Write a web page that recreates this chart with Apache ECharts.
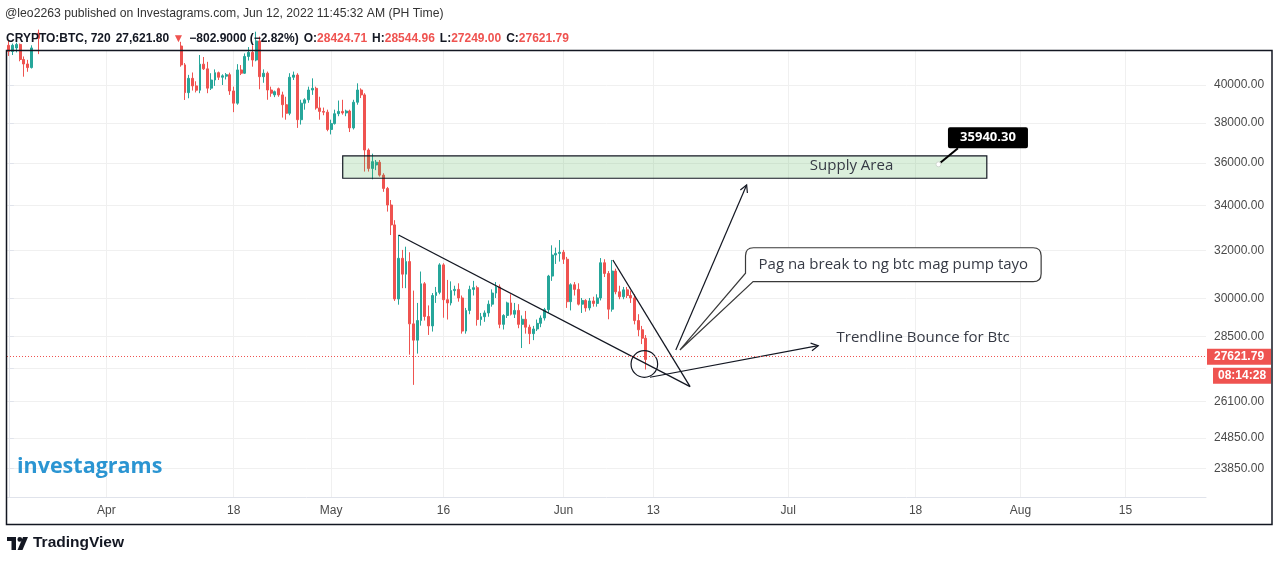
<!DOCTYPE html>
<html><head><meta charset="utf-8">
<script src="https://cdn.jsdelivr.net/npm/echarts@6/dist/echarts.min.js"></script>
<style>html,body{margin:0;padding:0;background:#fff}#c{width:1279px;height:562px}</style>
</head><body><div id="c"></div>
<script>
// ---------- data ----------
const slotCount = 320;                       // 12h slots on the time axis (Mar 19 -> Aug 25)
const firstSlotUTC = Date.UTC(2022, 2, 19, 8, 0); // first candle, 08:00 PH time
// candles: [open, high, low, close]  (720-minute bars)
const ohlc = [
[42200,42450,41600,41850],[41850,42300,41650,42200],[42050,42350,41800,42250],[42250,42300,41300,41400],
[41400,41570,40450,41150],[41150,41380,40720,40950],[40950,42200,40900,42050],[42050,43300,41950,42900],
[42900,43100,41700,42600],[42600,43050,42400,42900],[42900,43700,42700,43600],[43600,44200,43400,43960],
[43960,45100,43900,44600],[44600,44900,44100,44330],[44330,44700,44200,44500],[44500,44800,44300,44450],
[44450,45100,44400,45000],[45000,46900,44900,46820],[46820,48190,46700,47500],[47500,47700,46800,47130],
[47130,48100,47000,47800],[47800,47900,47200,47430],[47430,47500,46600,47100],[47100,47700,46800,47060],
[47060,47600,46900,47300],[47300,47400,45300,45530],[45530,45800,44200,45000],[45000,46700,44900,46400],
[46400,47200,46200,47000],[47000,47100,46300,46450],[46450,46700,45900,46300],[46300,47400,46200,46620],
[46620,46800,45100,45500],[45500,46800,45400,46600],[46600,47200,46400,47000],[47000,47100,45400,45500],
[45500,45600,43800,44000],[44000,44200,43100,43170],[43170,43700,42800,43600],[43600,43900,43200,43440],
[43440,43950,43300,43900],[43900,43950,42150,42250],[42250,42500,42100,42400],[42400,42800,42300,42750],
[42750,43400,42600,43100],[43100,43200,42100,42160],[42160,42400,41000,41100],[41100,41200,39200,39590],
[39590,40550,39290,40360],[40360,40680,39700,39950],[39950,40200,39600,39720],[39720,41650,39560,41140],
[41140,41540,40820,40880],[40880,41270,39560,39830],[39830,40640,39730,40270],[40270,40850,39950,40670],
[40670,40730,40270,40420],[40420,40580,40000,40500],[40480,40650,40300,40560],[40560,40670,39470,39680],
[39680,39910,38560,39030],[39030,41140,38950,40820],[40820,41090,40540,40640],[40640,41740,40600,41570],
[41570,42100,41340,41800],[41800,42200,41000,41370],[41370,42980,41300,42450],[42450,42700,39770,40450],
[40450,40850,40120,40640],[40640,40730,39210,39730],[39730,39910,39370,39560],[39470,39700,39350,39640],
[39800,39860,39370,39470],[39470,39640,38280,38950],[38950,39370,38170,38500],[38500,40640,38400,40420],
[40420,40730,40270,40540],[40540,40640,37750,38170],[38170,39210,37920,39030],[39030,39290,38690,39210],
[39210,39910,39050,39730],[39730,40360,39470,39820],[39820,39910,38690,38780],[38780,39370,38170,38600],
[38600,38800,38400,38560],[38560,38690,37580,37670],[37670,38170,37420,37970],[37970,38690,37920,38480],
[38480,39170,38350,38600],[38600,39210,38430,38520],[38520,38690,38350,38620],[38620,38690,37540,37750],
[37750,39210,37670,39080],[39080,40090,38950,39730],[39730,39820,39300,39470],[39470,39560,35590,36640],
[36640,36720,35590,35740],[35740,36460,35220,36070],[35910,36150,35660,36040],[36040,36150,35350,35420],
[35420,35510,34630,34790],[34790,34860,33720,34020],[34020,34250,32670,33120],[33120,33330,29890,29970],
[29970,32670,29740,31660],[31660,32020,30410,30990],[30990,32160,30410,31520],[31520,31920,27800,28980],
[28980,30310,26690,28350],[28350,29810,27840,29110],[29110,31100,28910,30590],[30590,30660,29110,29270],
[29270,29710,28550,28900],[28900,30210,28680,30110],[30110,30460,29810,30240],[30240,31450,30160,31380],
[31380,31450,29220,29940],[29940,30750,29150,29810],[29810,30690,29710,30310],[30310,30510,30110,30360],
[30360,30610,29860,30010],[30010,30110,28600,28700],[28700,29610,28600,29510],[29510,30510,29360,30360],
[30360,30710,30110,30430],[30430,30510,28910,29150],[29150,29410,28910,29260],[29260,29510,29060,29410],
[29410,29910,29260,29760],[29760,30360,29660,30210],[30210,30660,30010,30460],[30460,30560,28810,28960],
[28960,29360,28760,29310],[29310,29860,29210,29810],[29810,30160,29310,29360],[29360,29810,29210,29510],
[29510,29760,28810,28960],[28960,29310,28050,29160],[29160,29490,28600,28850],[28850,28950,28200,28600],
[28600,28900,28350,28780],[28780,29150,28700,29000],[29000,29310,28850,29210],[29210,29610,29110,29540],
[29540,30960,29410,30910],[30910,32220,30710,31800],[31800,32120,31420,31870],[31870,32450,31520,31920],
[31920,32020,31420,31620],[31620,31720,29610,29860],[29860,30610,29510,30550],[30550,30660,30110,30360],
[30360,30610,29710,29760],[29760,30010,29410,29910],[29910,29960,29460,29610],[29610,30010,29510,29890],
[29890,30060,29660,29790],[29790,30160,29660,30010],[30010,31670,29910,31470],[31470,31620,30870,31020],
[31020,31120,29160,29560],[29560,31590,29460,31120],[31120,31220,30160,30260],[30260,30510,29960,30060],
[30060,30460,29960,30340],[30340,30460,30010,30110],[30110,30310,29810,30010],[30010,30160,28960,29110],
[29110,29360,28500,28750],[28750,28900,28200,28424.71],[28424.71,28544.96,27249.00,27621.79]
];
const priceChange = '\u2212802.9000 (\u22122.82%)';
const lastPriceText = '27,621.80';
const countdown = '08:14:28';
// price axis (log scale) range and ticks
const yMinPrice = 22943, yMaxPrice = 41877;
const yTickValues = [40000, 38000, 36000, 34000, 32000, 30000, 28500, 27300, 26100, 24850, 23850];
const yTickLabels = ['40000.00','38000.00','36000.00','34000.00','32000.00','30000.00','28500.00','','26100.00','24850.00','23850.00'];
const xTickLabels = {
  '2022-04-01 08:00':'Apr','2022-04-18 08:00':'18','2022-05-01 08:00':'May','2022-05-16 08:00':'16',
  '2022-06-01 08:00':'Jun','2022-06-13 08:00':'13','2022-07-01 08:00':'Jul','2022-07-18 08:00':'18',
  '2022-08-01 08:00':'Aug','2022-08-15 08:00':'15'
};
// drawings: points are [slot index, price]
const trendLines = [ [[104, 32672], [181.8, 26626]], [[161.2, 31589], [181.8, 26626]] ];
const arrows = [ [[171.1, 26966], [216.0, 28140]], [[178.0, 27978], [196.9, 34952]] ];
const circles = [ [169.6, 27453] ];
const supplyArea = { from: [89.1, 36347], to: [261.0, 35270], textAt: [224.9, 35874], text: 'Supply Area' };
const notes = [ { at: [220.9, 28425], text: 'Trendline Bounce for Btc' } ];
const callout = { from: [196.6, 32115], to: [275.5, 30678], tip: [179.1, 27978], text: 'Pag na break to ng btc mag pump tayo' };
const priceNote = { point: [248.1, 35940.30], anchor: [253.3, 36726], text: '35940.30' };

// ---------- build ----------
const FONT = '"Liberation Sans", "DejaVu Sans", Arial, sans-serif';
const DFONT = '"Open Sans", "Noto Sans", sans-serif';
const UP = '#26a69a', DOWN = '#ef5350', INK = '#131722';
const L = Math.log;
const pad = n => String(n).padStart(2, '0');
const categories = [];
for (let i = 0; i < slotCount; i++) {
  const d = new Date(firstSlotUTC + i * 12 * 3600 * 1000);
  categories.push(`${d.getUTCFullYear()}-${pad(d.getUTCMonth()+1)}-${pad(d.getUTCDate())} ${pad(d.getUTCHours())}:00`);
}
const candleData = ohlc.map(([o,h,l,c]) => [L(o), L(c), L(l), L(h)]);
const last = ohlc[ohlc.length - 1];
const lnTicks = yTickValues.map(L);
const yFmt = v => {
  let b = 0;
  for (let i = 1; i < lnTicks.length; i++) if (Math.abs(lnTicks[i]-v) < Math.abs(lnTicks[b]-v)) b = i;
  return yTickLabels[b];
};
const isTick = (idx, val) => Object.prototype.hasOwnProperty.call(xTickLabels, val);
const seg = s => [s[0][0], L(s[0][1]), s[1][0], L(s[1][1])];

function head(a, b, len, ang) {
  const th = Math.atan2(b[1]-a[1], b[0]-a[0]);
  return [[b[0]-len*Math.cos(th-ang), b[1]-len*Math.sin(th-ang)], b, [b[0]-len*Math.cos(th+ang), b[1]-len*Math.sin(th+ang)]];
}
const txt = (x, y, text, font, fill, align) => ({type:'text', x, y, style:{text, font, fill, align, textAlign: align, verticalAlign:'middle', textVerticalAlign:'middle'}});

const chart = echarts.init(document.getElementById('c'), null, {renderer:'canvas'});
chart.setOption({
  animation: false,
  backgroundColor: '#ffffff',
  title: [
    { left: 5, top: 8, padding: 0, text: '@leo2263 published on Investagrams.com, Jun 12, 2022 11:45:32 AM (PH Time)',
      textStyle: { fontSize: 12.2, fontWeight: 'normal', color: '#333', fontFamily: FONT } },
    { left: 6, top: 30, padding: 0,
      text: `{b|CRYPTO:BTC, 720} {n|${lastPriceText}}{r| \u25BC} {n|${priceChange}} {b|O:}{r|${last[0].toFixed(2)}} {b|H:}{r|${last[1].toFixed(2)}} {b|L:}{r|${last[2].toFixed(2)}} {b|C:}{r|${last[3].toFixed(2)}}`,
      textStyle: { rich: {
        b: { fontSize: 12, fontWeight: 'bold', color: INK, fontFamily: FONT },
        n: { fontSize: 12, color: INK, fontFamily: FONT },
        r: { fontSize: 12, color: DOWN, fontFamily: FONT }
      } } }
  ],
  graphic: [
    { type: 'rect', shape: { x: 6.5, y: 50.5, width: 1265.5, height: 474 }, style: { fill: 'none', stroke: INK, lineWidth: 1.5 }, silent: true, z: 100 },
    { type: 'text', left: 17, top: 456, style: { text: 'investagrams', font: 'bold 21.5px "Open Sans", sans-serif', fill: '#2b95d2' }, z: 50 },
    { type: 'group', left: 7, top: 537, children: [
      { type: 'rect', shape: { x: 0, y: 0, width: 9, height: 4 }, style: { fill: INK } },
      { type: 'rect', shape: { x: 4.5, y: 0, width: 4.5, height: 13 }, style: { fill: INK } },
      { type: 'circle', shape: { cx: 12.8, cy: 2.4, r: 2.4 }, style: { fill: INK } },
      { type: 'polygon', shape: { points: [[10.5,13],[15.5,13],[21,0],[16,0]] }, style: { fill: INK } }
    ] },
    { type: 'text', left: 33, top: 535, style: { text: 'TradingView', font: 'bold 15.5px ' + FONT, fill: INK } }
  ],
  grid: { left: 7, right: 73, top: 51, bottom: 65, containLabel: false },
  xAxis: [
    { type: 'category', data: categories, boundaryGap: true,
      axisLine: { lineStyle: { color: '#e0e3eb' } }, axisTick: { show: false },
      axisLabel: { interval: isTick, formatter: v => xTickLabels[v] || '', color: '#4a4a4a', fontSize: 12, fontFamily: FONT, margin: 8 },
      splitLine: { show: true, interval: isTick, alignWithLabel: true, lineStyle: { color: '#f0f0f0' } } },
    { type: 'value', min: -0.5, max: slotCount - 0.5, show: false }
  ],
  yAxis: [{
    type: 'value', position: 'right', min: L(yMinPrice), max: L(yMaxPrice), scale: true,
    axisLine: { show: true, lineStyle: { color: '#e0e3eb' } },
    axisTick: { show: true, length: 5, customValues: lnTicks, lineStyle: { color: '#e0e3eb' } },
    axisLabel: { customValues: lnTicks, formatter: yFmt, color: '#4a4a4a', fontSize: 12, fontFamily: FONT, margin: 8 },
    splitLine: { show: true, lineStyle: { color: '#f0f0f0' } }
  }],
  series: [
    { type: 'candlestick', name: 'BTC', xAxisIndex: 0, yAxisIndex: 0, data: candleData, barWidth: 2.4, clip: true,
      itemStyle: { color: UP, color0: DOWN, borderColor: UP, borderColor0: DOWN, borderWidth: 1 },
      markLine: { silent: true, symbol: ['none','none'], animation: false,
        lineStyle: { color: DOWN, type: [1, 2], width: 1 },
        label: { show: true, position: 'end', distance: 1,
          formatter: () => `{s| }\n{p|${last[3].toFixed(2)}}\n{g| }\n{t|${countdown}}`,
          rich: {
            s: { height: 19, lineHeight: 19, fontSize: 1 },
            p: { backgroundColor: DOWN, color: '#fff', fontWeight: 'bold', fontSize: 12, fontFamily: FONT, height: 16, lineHeight: 16, padding: [0, 7] },
            g: { height: 3, lineHeight: 3, fontSize: 1 },
            t: { backgroundColor: DOWN, color: '#fff', fontWeight: 'bold', fontSize: 12, fontFamily: FONT, height: 16, lineHeight: 16, padding: [0, 5], align: 'right' }
          } },
        data: [{ yAxis: L(last[3]) }] } },
    { type: 'custom', name: 'supply', xAxisIndex: 1, yAxisIndex: 0, z: 3,
      data: [[supplyArea.from[0], L(supplyArea.from[1]), supplyArea.to[0], L(supplyArea.to[1]), supplyArea.textAt[0], L(supplyArea.textAt[1])]],
      encode: { x: [0, 2], y: [1, 3] },
      renderItem: (p, api) => {
        const a = api.coord([api.value(0), api.value(1)]), b = api.coord([api.value(2), api.value(3)]);
        const t = api.coord([api.value(4), api.value(5)]);
        return { type: 'group', children: [
          { type: 'rect', shape: { x: a[0], y: a[1], width: b[0]-a[0], height: b[1]-a[1] }, style: { fill: 'rgba(76,175,80,0.2)', stroke: INK, lineWidth: 1.2 } },
          txt(t[0], t[1], supplyArea.text, '15px ' + DFONT, '#363a45', 'center')
        ] };
      } },
    { type: 'custom', name: 'trendlines', xAxisIndex: 1, yAxisIndex: 0, z: 4,
      data: trendLines.map(seg), encode: { x: [0, 2], y: [1, 3] },
      renderItem: (p, api) => {
        const a = api.coord([api.value(0), api.value(1)]), b = api.coord([api.value(2), api.value(3)]);
        return { type: 'line', shape: { x1: a[0], y1: a[1], x2: b[0], y2: b[1] }, style: { stroke: INK, lineWidth: 1.3 } };
      } },
    { type: 'custom', name: 'arrows', xAxisIndex: 1, yAxisIndex: 0, z: 4,
      data: arrows.map(seg), encode: { x: [0, 2], y: [1, 3] },
      renderItem: (p, api) => {
        const a = api.coord([api.value(0), api.value(1)]), b = api.coord([api.value(2), api.value(3)]);
        return { type: 'group', children: [
          { type: 'line', shape: { x1: a[0], y1: a[1], x2: b[0], y2: b[1] }, style: { stroke: INK, lineWidth: 1.2 } },
          { type: 'polyline', shape: { points: head(a, b, 8, 0.5) }, style: { stroke: INK, lineWidth: 1.2, fill: null } }
        ] };
      } },
    { type: 'custom', name: 'circle', xAxisIndex: 1, yAxisIndex: 0, z: 4,
      data: circles.map(c => [c[0], L(c[1])]), encode: { x: 0, y: 1 },
      renderItem: (p, api) => {
        const c = api.coord([api.value(0), api.value(1)]);
        return { type: 'circle', shape: { cx: c[0], cy: c[1], r: 13.3 }, style: { fill: null, stroke: INK, lineWidth: 1.2 } };
      } },
    { type: 'custom', name: 'notes', xAxisIndex: 1, yAxisIndex: 0, z: 4,
      data: notes.map(n => [n.at[0], L(n.at[1])]), encode: { x: 0, y: 1 },
      renderItem: (p, api) => {
        const c = api.coord([api.value(0), api.value(1)]);
        return txt(c[0], c[1], notes[p.dataIndex].text, '15px ' + DFONT, '#363a45', 'left');
      } },
    { type: 'custom', name: 'callout', xAxisIndex: 1, yAxisIndex: 0, z: 5,
      data: [[callout.from[0], L(callout.from[1]), callout.to[0], L(callout.to[1]), callout.tip[0], L(callout.tip[1])]],
      encode: { x: [0, 2], y: [1, 3] },
      renderItem: (p, api) => {
        const a = api.coord([api.value(0), api.value(1)]), b = api.coord([api.value(2), api.value(3)]);
        const t = api.coord([api.value(4), api.value(5)]);
        const r = 8, x0 = a[0], y0 = a[1], x1 = b[0], y1 = b[1];
        const d = `M${x0+r} ${y0} L${x1-r} ${y0} Q${x1} ${y0} ${x1} ${y0+r} L${x1} ${y1-r} Q${x1} ${y1} ${x1-r} ${y1} ` +
          `L${x0+7.6} ${y1} L${t[0]} ${t[1]} L${x0} ${y1-8.4} L${x0} ${y0+r} Q${x0} ${y0} ${x0+r} ${y0} Z`;
        return { type: 'group', children: [
          { type: 'path', shape: { pathData: d }, style: { fill: '#fff', stroke: '#3a3a3a', lineWidth: 1.2 } },
          txt((x0+x1)/2, (y0+y1)/2, callout.text, '15px ' + DFONT, '#363a45', 'center')
        ] };
      } },
    { type: 'custom', name: 'pricenote', xAxisIndex: 1, yAxisIndex: 0, z: 5,
      data: [[priceNote.point[0], L(priceNote.point[1]), priceNote.anchor[0], L(priceNote.anchor[1])]],
      encode: { x: [0, 2], y: [1, 3] },
      renderItem: (p, api) => {
        const a = api.coord([api.value(0), api.value(1)]), b = api.coord([api.value(2), api.value(3)]);
        return { type: 'group', children: [
          { type: 'line', shape: { x1: a[0], y1: a[1], x2: b[0], y2: b[1] }, style: { stroke: '#000', lineWidth: 2 } },
          { type: 'circle', shape: { cx: a[0], cy: a[1], r: 2.5 }, style: { fill: '#fff', stroke: '#cfd8cf', lineWidth: 1 } },
          { type: 'rect', shape: { x: b[0]-10, y: b[1]-21, width: 80, height: 21, r: 2 }, style: { fill: '#000' } },
          txt(b[0]+30, b[1]-10.5, priceNote.text, 'bold 13px ' + DFONT, '#fff', 'center')
        ] };
      } }
  ]
});
</script></body></html>
